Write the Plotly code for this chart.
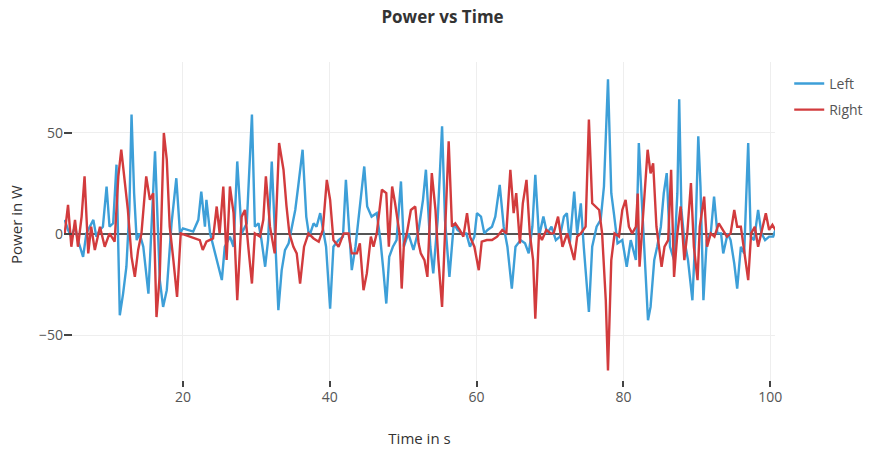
import plotly.graph_objects as go

left_t = [3.9, 4.35, 4.8, 5.3, 5.7, 6.4, 6.85, 7.3, 7.8, 8.2, 8.7, 9.1, 9.6, 10.0, 10.5, 10.95, 11.4, 11.85,
          12.3, 12.7, 13.0, 13.35, 13.7, 14.1, 14.6, 15.3, 15.7, 16.2, 16.85, 17.3, 17.8, 18.45, 19.1, 19.6,
          20.0, 20.7, 21.4, 22.1, 22.5, 23.0, 23.2, 23.7, 24.4, 24.8, 25.3, 25.7, 26.4, 26.9, 27.4, 28.0,
          28.7, 29.4, 29.8, 30.3, 30.7, 31.2, 31.6, 32.1, 32.5, 33.0, 33.45, 33.9, 34.4, 35.3, 35.7, 36.3,
          36.8, 37.2, 37.8, 38.2, 38.7, 39.05, 39.5, 40.05, 40.5, 41.2, 41.8, 42.2, 42.7, 43.0, 43.5, 44.1,
          44.7, 45.1, 45.7, 46.4, 46.9, 47.3, 47.7, 48.1, 48.6, 49.1, 49.7, 50.1, 50.7, 51.4, 52.1, 52.7,
          53.1, 53.7, 54.1, 54.7, 55.3, 55.7, 56.3, 56.9, 57.4, 58.0, 58.6, 59.1, 59.7, 60.05, 60.6, 61.05,
          61.5, 62.1, 62.55, 63.15, 63.7, 64.2, 64.8, 65.3, 66.0, 66.6, 67.1, 67.6, 68.0, 68.5, 69.1, 69.6,
          70.2, 70.8, 71.35, 71.9, 72.3, 72.7, 73.3, 73.7, 74.2, 74.6, 75.3, 75.75, 76.35, 76.9, 77.35,
          77.9, 78.35, 78.7, 79.2, 79.85, 80.45, 81.0, 81.7, 82.1, 82.6, 83.0, 83.35, 83.7, 84.2, 84.6,
          85.1, 85.5, 85.9, 86.35, 86.9, 87.35, 87.6, 87.9, 88.3, 88.8, 89.4, 89.85, 90.2, 90.5, 90.9,
          91.35, 91.9, 92.35, 92.8, 93.3, 93.6, 94.2, 94.6, 95.1, 95.5, 96.0, 96.45, 97.0, 97.35, 97.8,
          98.35, 98.8, 99.3, 99.85, 100.4, 100.7]
left_p = [7.0, 2.0, -1.3, 3.6, -3.0, -11.3, 0.3, 3.6, 7.0, -1.3, 2.0, 3.6, 23.5, 3.6, 5.3, 34.3, -40.2, -29.5,
          -16.2, 11.9, 59.1, 20.2, -3.0, 0.3, -6.3, -29.5, 3.6, 40.9, -22.8, -36.1, -27.8, 5.3, 27.6, 0.3,
          2.8, 2.0, 1.2, 7.0, 21.0, 3.6, 16.9, 0.3, -9.6, -16.2, -22.8, -6.3, -1.3, -6.3, 35.9, 0.3,
          5.3, 59.1, 3.6, 5.3, -3.0, -16.2, -3.0, 35.9, 0.3, -37.7, -18.0, -8.0, -4.6, 11.9, 23.5, 41.7,
          8.6, -1.3, 5.3, 3.6, 10.3, 3.6, -6.3, -36.9, -6.3, -3.0, -1.3, 26.8, -3.0, -17.9, -6.3, 15.2,
          33.4, 13.6, 8.6, 10.3, -3.0, -17.9, -34.4, -11.3, -6.3, -3.0, 26.0, -6.3, 0.3, -7.9, 2.0, 16.9,
          31.8, -6.3, -19.5, 7.0, 53.3, 7.0, -21.2, 5.3, 2.0, 0.3, 0.3, -6.3, -1.3, 10.3, 8.6, 0.3,
          2.0, 3.6, 8.6, 24.3, 3.6, -6.3, -27.0, -6.3, -3.0, -4.6, -9.6, 3.6, 29.3, -1.3, 8.6, 0.3,
          3.6, -3.0, -1.3, 8.6, 10.3, -4.6, 21.0, 0.3, 15.2, -6.3, -38.6, -6.3, 3.6, 7.0, 23.5,
          76.5, 20.2, 10.3, -4.6, -3.0, -16.2, -3.0, -12.9, 45.0, 7.0, -16.2, -42.7, -36.1, -12.9, -6.3,
          3.6, 20.2, 30.1, -6.3, -12.9, 20.2, 66.6, 11.9, -3.0, -12.9, -32.8, 3.6, 48.3, 23.5, -32.8,
          -3.0, 0.3, 18.5, 0.3, 0.3, -9.6, 0.3, -3.0, -14.6, -27.0, -6.3, -9.6, 45.0, -1.3, -3.0,
          11.9, 0.3, -3.0, -1.3, -1.3, 2.0]

right_t = [3.9, 4.35, 4.8, 5.3, 5.7, 6.2, 6.6, 7.1, 7.5, 8.0, 8.7, 9.35, 10.0, 10.7, 11.2, 11.6, 12.1, 12.5,
           13.0, 13.45, 13.9, 14.35, 15.0, 15.5, 15.95, 16.4, 16.85, 17.4, 17.8, 18.2, 18.7, 19.2, 19.7,
           20.3, 20.95, 21.6, 22.3, 22.7, 23.2, 24.1, 24.6, 25.0, 25.5, 25.95, 26.4, 26.9, 27.4, 28.0,
           28.45, 28.9, 29.4, 29.8, 30.5, 30.95, 31.3, 31.86, 32.5, 33.1, 33.7, 34.1, 34.5, 35.05, 35.5,
           35.96, 36.5, 37.1, 37.8, 38.5, 39.05, 39.6, 40.05, 40.5, 41.2, 41.9, 42.55, 43.0, 43.7, 44.1,
           44.6, 45.05, 45.6, 45.96, 46.4, 47.1, 47.7, 48.05, 48.5, 48.9, 49.5, 49.8, 50.1, 50.5, 51.05,
           51.65, 52.1, 52.4, 52.9, 53.3, 53.9, 54.4, 54.8, 55.3, 55.7, 56.2, 56.65, 57.1, 57.7, 58.2,
           58.7, 59.1, 59.7, 60.3, 60.7, 61.4, 62.1, 62.8, 63.5, 64.05, 64.6, 65.05, 65.4, 65.9, 66.3,
           66.8, 67.25, 67.7, 68.0, 68.5, 68.9, 69.5, 70.1, 70.5, 71.1, 71.7, 72.35, 72.8, 73.3, 73.7,
           74.2, 74.85, 75.3, 75.75, 76.2, 76.7, 77.1, 77.6, 77.9, 78.35, 78.8, 79.4, 79.85, 80.3, 80.75,
           81.2, 81.7, 81.95, 82.2, 82.6, 82.9, 83.3, 83.7, 84.05, 84.5, 84.85, 85.2, 85.6, 86.1, 86.5,
           86.9, 87.35, 87.8, 88.3, 88.7, 89.2, 89.6, 90.1, 90.4, 91.0, 91.4, 91.9, 92.4, 93.0, 93.6,
           94.1, 94.6, 95.1, 95.5, 96.0, 96.5, 97.0, 97.4, 97.9, 98.35, 98.8, 99.4, 99.85, 100.3, 100.7]
right_p = [0.3, 14.4, -6.3, 7.0, -6.3, 8.6, 28.5, -9.6, 3.6, -7.9, 3.6, -6.3, 0.3, -3.8, 28.5, 41.7, 25.2, 11.9,
           -11.3, -21.2, -7.9, 0.3, 28.5, 16.9, 20.2, -41.1, -20.0, 50.0, 36.8, 3.6, -12.9, -31.1, 0.3,
           -0.5, -1.3, -2.2, -3.0, -7.9, -3.8, -2.2, 13.6, 0.3, 23.5, -12.9, 23.5, 10.3, -32.8, 8.6,
           11.9, -6.3, -24.5, 0.3, -1.3, 7.0, 28.5, 3.6, -9.6, 45.0, 31.8, 14.0, 0.3, -6.3, -9.6,
           -24.5, -6.3, 0.3, -2.2, -3.8, 2.0, 26.8, 16.9, -3.0, -6.3, 0.3, 0.3, -9.6, -9.6, -4.6,
           -27.8, -19.5, -1.3, -6.3, 0.3, 21.9, 20.2, -6.3, 23.5, 15.2, 0.3, -27.0, -5.0, 0.3, 11.9,
           13.6, -4.6, -9.6, -12.9, -21.2, 30.1, 11.9, -12.9, -36.1, 0.3, 45.9, 3.6, 5.3, 2.0, -1.3,
           10.3, -1.3, -6.3, -17.9, -3.8, -3.0, -3.0, -1.3, 2.0, 0.3, 31.8, 10.3, 20.2, -4.6, 15.2,
           26.8, 0.3, -12.9, -41.9, 0.3, -3.0, 2.0, 0.3, 0.3, 8.6, -6.3, 0.3, -6.3, -12.9, -1.3,
           0.3, 3.6, 56.6, 15.2, 13.6, 11.9, 0.3, -32.8, -67.5, -12.9, 0.3, -1.3, 11.9, 16.9, 3.6,
           0.3, 3.6, 20.0, -16.2, 5.0, 20.2, 41.7, 30.0, 35.0, 3.6, -6.3, -16.2, -6.3, -3.0, 31.8,
           -21.2, 0.3, 13.6, -12.9, 0.3, 25.2, -6.3, -22.8, 3.6, 18.5, -6.3, 0.3, -1.3, 5.3, 2.0,
           -1.3, 0.3, 11.9, 3.6, 3.6, -9.6, -22.8, 0.3, 3.6, -6.3, 0.3, 10.3, 2.0, 4.5, 2.0]

x_ticks = [20, 40, 60, 80, 100]
y_ticks = [-50, 0, 50]

FONT = "Open Sans"
fig = go.Figure()
fig.add_trace(go.Scatter(x=left_t, y=left_p, mode="lines", name="Left",
                         line=dict(color="#3d9fd8", width=2.4), legendgroup="l"))
fig.add_trace(go.Scatter(x=right_t, y=right_p, mode="lines", name="Right",
                         line=dict(color="#d23b3d", width=2.4), legendgroup="r"))

fig.update_layout(
    width=885, height=454,
    margin=dict(l=64, r=110, t=62, b=67),
    paper_bgcolor="white", plot_bgcolor="white",
    font=dict(family=FONT, size=14, color="#444"),
    title=dict(text="<b>Power vs Time</b>", x=0.5, xref="container", y=0.963, yanchor="middle",
               font=dict(family=FONT, size=17, color="#333")),
    legend=dict(x=1.02, y=0.982, xanchor="left", yanchor="top", tracegroupgap=5,
                font=dict(family=FONT, size=14, color="#555")),
    xaxis=dict(range=[3.8, 100.65], tickvals=x_ticks, ticks="inside", ticklen=6, tickwidth=2,
               tickcolor="#444", showgrid=True, gridcolor="#eeeeee", zeroline=False,
               showline=False, automargin=False, tickfont=dict(size=14, color="#555"),
               title=dict(text="Time in s", font=dict(size=15, color="#333"), standoff=28)),
    yaxis=dict(range=[-75.7, 85.1], tickvals=y_ticks, ticks="inside", ticklen=8, tickwidth=2,
               tickcolor="#444", showgrid=True, gridcolor="#eeeeee", zeroline=True,
               zerolinecolor="#555", zerolinewidth=1.5, showline=False, automargin=False,
               tickfont=dict(size=14, color="#555"),
               title=dict(text="Power in W", font=dict(size=15, color="#333"), standoff=12)),
)

fig.write_html("out.html")
